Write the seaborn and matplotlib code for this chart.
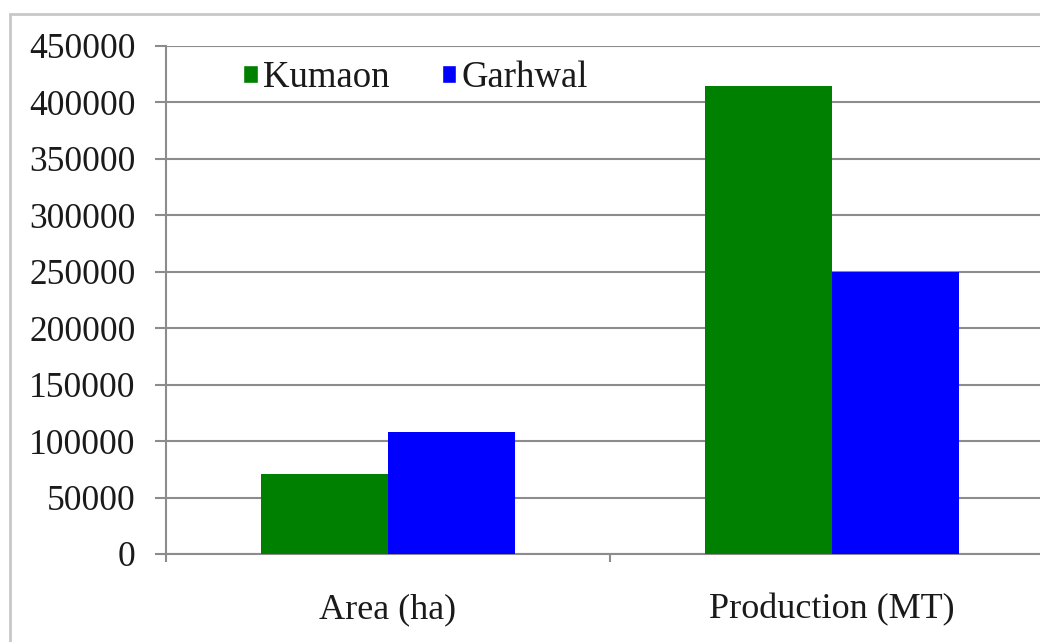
import matplotlib
matplotlib.use("Agg")
import matplotlib.pyplot as plt
from matplotlib.patches import Rectangle
import numpy as np
import pandas as pd
import seaborn as sns

# Area and production by division
categories = ["Area (ha)", "Production (MT)"]
divisions = ["Kumaon", "Garhwal"]
kumaon = [71000, 414500]
garhwal = [108500, 249500]
y_ticks = [0, 50000, 100000, 150000, 200000, 250000, 300000, 350000, 400000, 450000]

df = pd.DataFrame({
    "category": categories * 2,
    "division": [divisions[0]] * len(categories) + [divisions[1]] * len(categories),
    "value": kumaon + garhwal,
})

sns.set_theme(style="white")
plt.rcParams["font.family"] = ["Liberation Serif", "DejaVu Serif"]

fig = plt.figure(figsize=(10.4, 6.42), dpi=100)
ax = fig.add_axes([166 / 1040, 1 - 554 / 642, (1054 - 166) / 1040, (554 - 46) / 642])

# Outer chart frame
fig.patches.append(Rectangle((10 / 1040, -0.1), 1.2, 1 - 14 / 642 + 0.1,
                             transform=fig.transFigure, fill=False,
                             edgecolor="#c8c8c8", linewidth=2, zorder=0))

sns.barplot(data=df, x="category", y="value", hue="division",
            palette={"Kumaon": "#008000", "Garhwal": "#0000ff"},
            width=0.57, saturation=1, linewidth=0, ax=ax, zorder=3, legend=False)

ax.set_xlim(-0.5, 1.5)
ax.set_ylim(0, 450000)
ax.set_yticks(y_ticks)
ax.set_yticklabels([str(v) for v in y_ticks])
ax.set_xlabel("")
ax.set_ylabel("")

grid_c = "#8c8c8c"
text_c = "#1a1a1a"
ax.yaxis.grid(True, color=grid_c, linewidth=1.5, zorder=0)
ax.set_axisbelow(True)
for side in ["top", "right"]:
    ax.spines[side].set_visible(False)
for side in ["left", "bottom"]:
    ax.spines[side].set_color(grid_c)
    ax.spines[side].set_linewidth(1.5)

ax.tick_params(axis="y", which="major", left=True, length=8, width=1.5,
               color=grid_c, pad=14, labelsize=25.5, labelcolor=text_c)
ax.set_xticks([-0.5, 0.5, 1.5], minor=True)
ax.tick_params(axis="x", which="minor", bottom=True, length=6, width=1.5, color=grid_c)
ax.tick_params(axis="x", which="major", bottom=False, length=0, pad=28,
               labelsize=26, labelcolor=text_c)

handles = [Rectangle((0, 0), 1, 1, facecolor=c) for c in ["#008000", "#0000ff"]]
ax.legend(handles, divisions, loc="center left", bbox_to_anchor=(0.087, 0.937),
          ncol=2, frameon=False, fontsize=26.5, handlelength=0.4, handleheight=0.4,
          handletextpad=0.15, columnspacing=1.4, borderpad=0, borderaxespad=0,
          labelcolor=text_c)

fig.savefig("out.png", dpi=100)
